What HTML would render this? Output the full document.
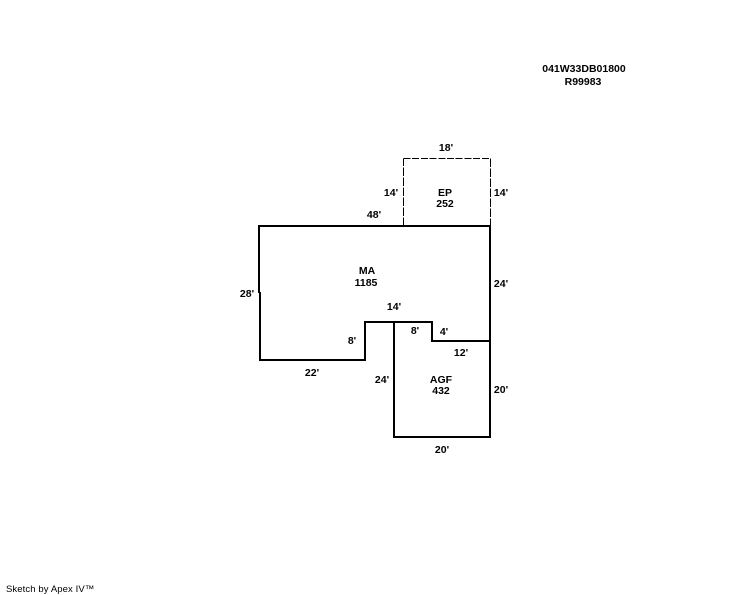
<!DOCTYPE html>
<html>
<head>
<meta charset="utf-8">
<style>
html,body{margin:0;padding:0;background:#fff;width:744px;height:595px;overflow:hidden}
svg{display:block}
text{font-family:"Liberation Sans",Arial,sans-serif;font-size:10.5px;font-weight:bold;fill:#000;text-anchor:middle}
.s{font-weight:normal;font-size:9.5px;text-anchor:start;letter-spacing:.1px}
</style>
</head>
<body>
<svg width="744" height="595" viewBox="0 0 744 595" xmlns="http://www.w3.org/2000/svg">
<g fill="none" stroke="#000" shape-rendering="crispEdges">
<path d="M403.5 158.5H490.5" stroke-width="1" stroke-dasharray="7 1.7"/>
<path d="M403.5 226V158.5M490.5 158.5V226" stroke-width="1" stroke-dasharray="8.5 1.5"/>
<g stroke-width="2">
<path d="M259 226H490V437H394V322"/>
<path d="M259 225V293M260 292V360H365V322H432V341H490"/>
</g>
</g>
<text x="584" y="72">041W33DB01800</text>
<text x="583" y="85">R99983</text>
<text x="446" y="151">18'</text>
<text x="391" y="196">14'</text>
<text x="501" y="196">14'</text>
<text x="445" y="196">EP</text>
<text x="445" y="207">252</text>
<text x="374" y="218">48'</text>
<text x="367" y="274">MA</text>
<text x="366" y="286">1185</text>
<text x="247" y="297">28'</text>
<text x="501" y="287">24'</text>
<text x="394" y="310">14'</text>
<text x="352" y="344">8'</text>
<text x="415" y="334">8'</text>
<text x="444" y="335">4'</text>
<text x="461" y="356">12'</text>
<text x="312" y="376">22'</text>
<text x="382" y="383">24'</text>
<text x="441" y="383">AGF</text>
<text x="441" y="394">432</text>
<text x="501" y="393">20'</text>
<text x="442" y="453">20'</text>
<text class="s" x="6" y="592">Sketch by Apex IV™</text>
</svg>
</body>
</html>
